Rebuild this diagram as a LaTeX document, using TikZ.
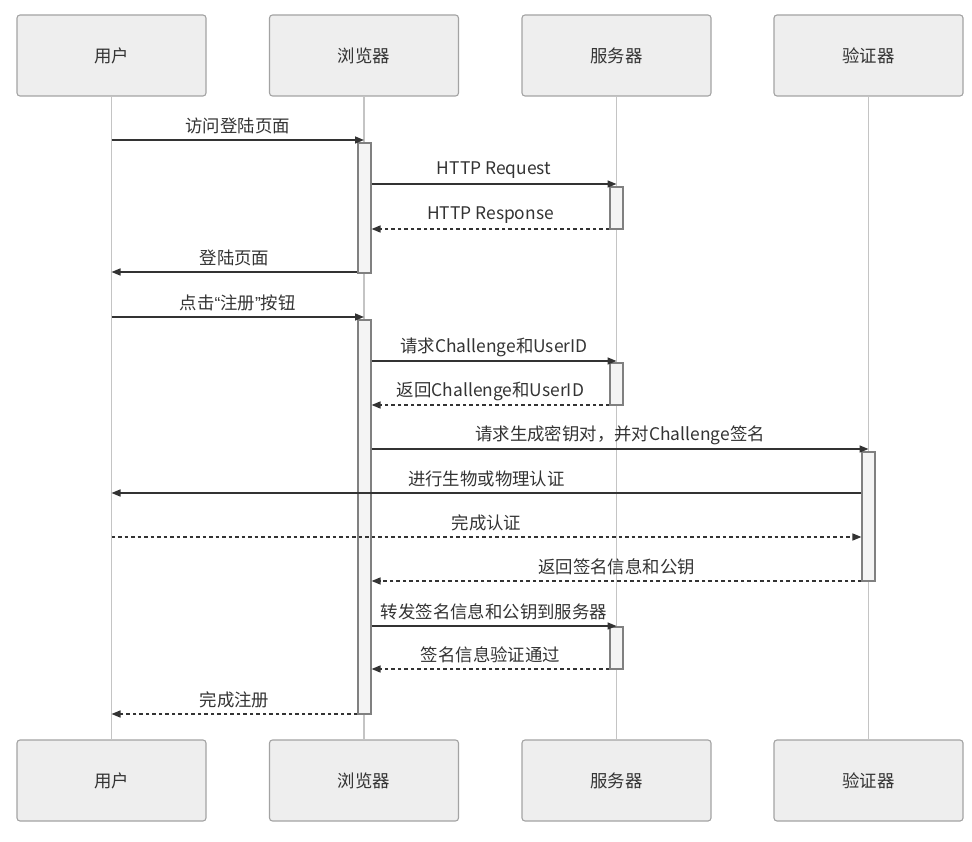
\documentclass[tikz,border=0pt]{standalone}
\usepackage{fontspec}
\setmainfont{Noto Sans CJK SC}
\newfontfamily\quotefont{Liberation Sans}
\usetikzlibrary{arrows.meta}
\definecolor{boxfill}{HTML}{EEEEEE}
\definecolor{boxline}{HTML}{A3A3A3}
\definecolor{lifeline}{HTML}{C4C4C4}
\definecolor{actfill}{HTML}{F4F4F4}
\definecolor{actline}{HTML}{808080}
\definecolor{ink}{HTML}{333333}

\begin{document}
\begin{tikzpicture}[x=1pt,y=-1pt,
  font=\fontsize{17.4}{20}\selectfont,
  actor/.style={draw=boxline,fill=boxfill,line width=1.1pt,rounded corners=3pt,
    minimum width=189pt,minimum height=81pt,text=ink},
  life/.style={lifeline,line width=1.2pt},
  act/.style={draw=actline,fill=actfill,line width=1.1pt,minimum width=13pt,inner sep=0pt},
  msg/.style={ink,line width=1.5pt,-{Triangle[length=9pt,width=7pt]}},
  ret/.style={msg,dash pattern=on 3.5pt off 3pt},
  lbl/.style={text=ink,yshift=14pt}]
  \useasboundingbox (0,0) rectangle (972,842);
  % participants
  \node[actor] (user) at (111.5,55.5) {用户};
  \node[actor] (browser) at (364,55.5) {浏览器};
  \node[actor] (server) at (616.5,55.5) {服务器};
  \node[actor] (verifier) at (868.5,55.5) {验证器};
  \node[actor] (user2) at (111.5,780.5) {用户};
  \node[actor] (browser2) at (364,780.5) {浏览器};
  \node[actor] (server2) at (616.5,780.5) {服务器};
  \node[actor] (verifier2) at (868.5,780.5) {验证器};
  % lifelines
  \draw[life] (user.south) -- (user2.north);
  \draw[life] (browser.south) -- (browser2.north);
  \draw[life] (server.south) -- (server2.north);
  \draw[life] (verifier.south) -- (verifier2.north);
  % activations
  \node[act,minimum height=130pt] (a1) at (364.5,208) {};
  \node[act,minimum height=42pt] (a2) at (616.5,208) {};
  \node[act,minimum height=394pt] (a3) at (364.5,517) {};
  \node[act,minimum height=42pt] (a4) at (616.5,384) {};
  \node[act,minimum height=129pt] (a5) at (868.5,516.5) {};
  \node[act,minimum height=42pt] (a6) at (616.5,648) {};
  % message rows
  \coordinate (m1) at (0,140);
  \coordinate (m2) at (0,184);
  \coordinate (m3) at (0,229);
  \coordinate (m4) at (0,272);
  \coordinate (m5) at (0,317);
  \coordinate (m6) at (0,361);
  \coordinate (m7) at (0,405);
  \coordinate (m8) at (0,449);
  \coordinate (m9) at (0,493);
  \coordinate (m10) at (0,537);
  \coordinate (m11) at (0,581);
  \coordinate (m12) at (0,626);
  \coordinate (m13) at (0,669);
  \coordinate (m14) at (0,714);
  % login page
  \draw[msg] (user |- m1) -- node[lbl]{访问登陆页面} (browser |- m1);
  \draw[msg] (a1.east |- m2) -- node[lbl]{HTTP Request} (server |- m2);
  \draw[ret] (a2.west |- m3) -- node[lbl]{HTTP Response} (a1.east |- m3);
  \draw[msg] (a1.west |- m4) -- node[lbl]{登陆页面} (user |- m4);
  % registration
  \draw[msg] (user |- m5) -- node[lbl]{点击{\quotefont “}注册{\quotefont ”}按钮} (browser |- m5);
  \draw[msg] (a3.east |- m6) -- node[lbl]{请求Challenge和UserID} (server |- m6);
  \draw[ret] (a4.west |- m7) -- node[lbl]{返回Challenge和UserID} (a3.east |- m7);
  \draw[msg] (a3.east |- m8) -- node[lbl]{请求生成密钥对，并对Challenge签名} (verifier |- m8);
  \draw[msg] (a5.west |- m9) -- node[lbl]{进行生物或物理认证} (user |- m9);
  \draw[ret] (user |- m10) -- node[lbl]{完成认证} (a5.west |- m10);
  \draw[ret] (a5.west |- m11) -- node[lbl]{返回签名信息和公钥} (a3.east |- m11);
  \draw[msg] (a3.east |- m12) -- node[lbl]{转发签名信息和公钥到服务器} (server |- m12);
  \draw[ret] (a6.west |- m13) -- node[lbl]{签名信息验证通过} (a3.east |- m13);
  \draw[ret] (a3.west |- m14) -- node[lbl]{完成注册} (user |- m14);
\end{tikzpicture}
\end{document}
